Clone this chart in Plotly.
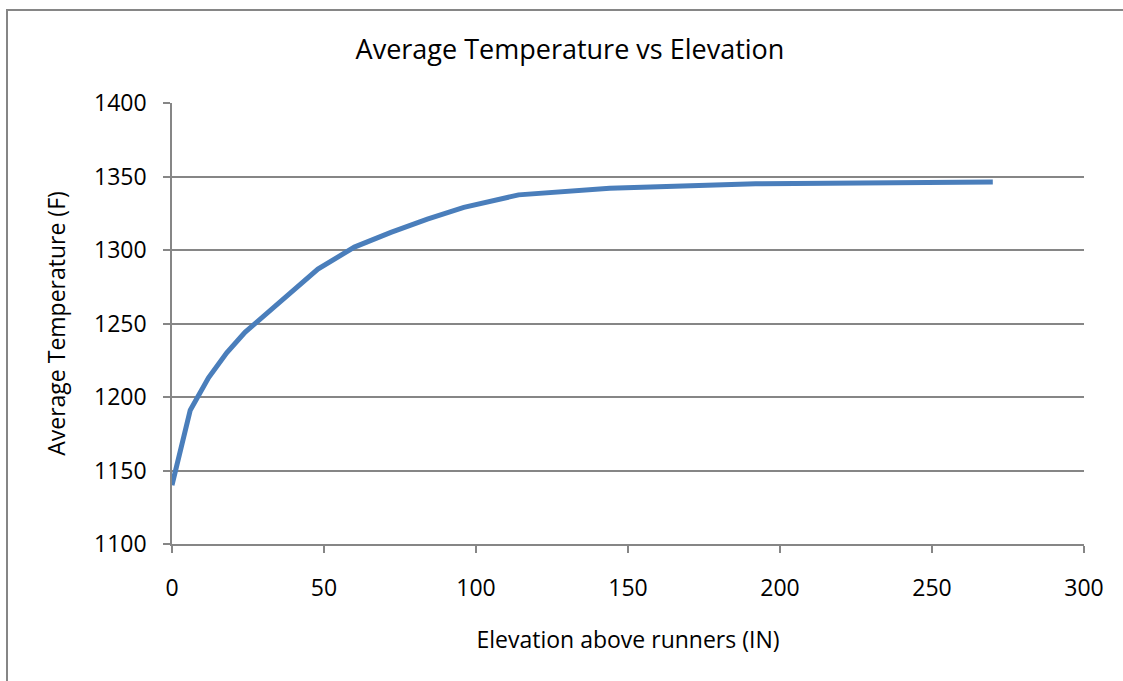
import plotly.graph_objects as go

elevation = [0, 6, 12, 18, 24, 36, 48, 60, 72, 84, 96, 114, 144, 192, 240, 270]
avg_temp = [1140, 1191, 1213, 1230, 1244, 1265, 1287, 1302, 1312, 1321, 1329, 1337.5, 1342, 1345, 1346, 1346.3]

x_ticks = [0, 50, 100, 150, 200, 250, 300]
y_ticks = [1100, 1150, 1200, 1250, 1300, 1350, 1400]

FONT = "Open Sans"
GRAY = "#868686"

fig = go.Figure()
fig.add_trace(go.Scatter(
    x=elevation, y=avg_temp, mode="lines",
    line=dict(color="#4A7EBB", width=5),
    showlegend=False, hoverinfo="x+y",
))

fig.update_layout(
    width=1123, height=681,
    margin=dict(l=172, r=39, t=103, b=137),
    paper_bgcolor="white", plot_bgcolor="white",
    font=dict(family=FONT, color="black"),
    title=dict(text="Average Temperature vs Elevation", x=570 / 1123, xanchor="center",
               y=1 - 50 / 681, yanchor="middle", font=dict(size=27, family=FONT, color="black")),
    xaxis=dict(
        range=[0, 300], tickvals=x_ticks, ticks="outside", ticklen=7, tickcolor=GRAY, tickwidth=1.5,
        showline=True, linecolor=GRAY, linewidth=1.5, showgrid=False, zeroline=False,
        tickfont=dict(size=23, family=FONT, color="black"), ticklabelstandoff=16,
        title=dict(text="Elevation above runners (IN)", font=dict(size=23, family=FONT, color="black"), standoff=30),
    ),
    yaxis=dict(
        range=[1100, 1400], tickvals=y_ticks, ticks="outside", ticklen=7, tickcolor=GRAY, tickwidth=1.5,
        showline=True, linecolor=GRAY, linewidth=1.5, showgrid=True, gridcolor=GRAY, gridwidth=1.5,
        zeroline=False,
        tickfont=dict(size=23, family=FONT, color="black"), ticklabelstandoff=12,
        title=dict(text="Average Temperature (F)", font=dict(size=23, family=FONT, color="black"), standoff=22),
    ),
    shapes=[dict(
        type="rect", xref="paper", yref="paper",
        x0=(7 - 172) / 912, x1=1.3, y0=-0.5, y1=(544 - 10) / 441,
        line=dict(color=GRAY, width=2), fillcolor="rgba(0,0,0,0)", layer="below",
    )],
)

fig.write_html("out.html", config={"displayModeBar": False},
               post_script="document.body.style.margin='0';")
